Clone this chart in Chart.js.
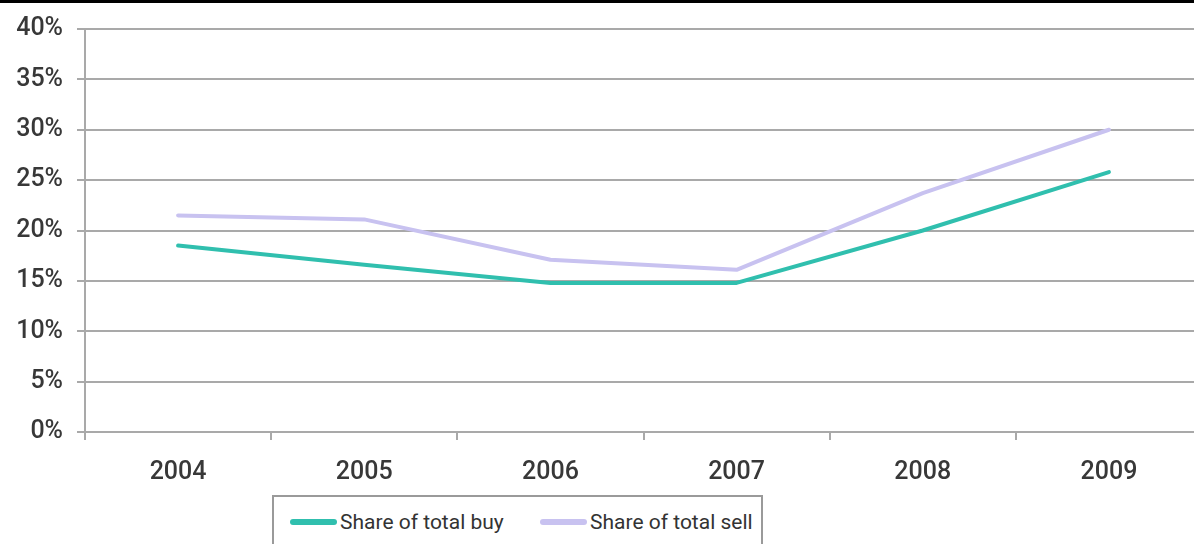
<!DOCTYPE html>
<html>
<head>
<meta charset="utf-8">
<script src="https://cdn.jsdelivr.net/npm/chart.js@4/dist/chart.umd.min.js"></script>
<style>
  html, body { margin: 0; padding: 0; background: #fff; }
  #wrap { position: relative; width: 1194px; height: 544px; overflow: hidden; background: #fff; }
  #topbar { position: absolute; left: 0; top: 0; width: 1194px; height: 3px; background: #000; z-index: 2; }
  #c { position: absolute; left: 0; top: 0; }
  #legend { position: absolute; left: 272px; top: 495px; width: 491px; height: 70px;
            border: 2px solid #9a9a9a; box-sizing: border-box; background: #fff;
            font-family: Roboto, "Liberation Sans", sans-serif; font-size: 21px; color: #333; }
  .item { position: absolute; top: 12px; height: 26px; line-height: 26px; white-space: nowrap; }
  .swatch { position: absolute; top: 10px; width: 47px; height: 6px; border-radius: 3px; }
  .txt { position: absolute; left: 50px; top: 0; }
</style>
</head>
<body>
<div id="wrap">
  <canvas id="c" width="1210" height="544" style="width:1210px;height:544px"></canvas>
  <div id="topbar"></div>
  <div id="legend"></div>
</div>
<script>
const years = ['2004', '2005', '2006', '2007', '2008', '2009'];
const shareBuy = [18.5, 16.6, 14.8, 14.8, 20.0, 25.8];
const shareSell = [21.5, 21.1, 17.1, 16.1, 23.7, 30.0];
const seriesNames = ['Share of total buy', 'Share of total sell'];
const seriesColors = ['#30bfae', '#c8c2f0'];
const yTickValues = [0, 5, 10, 15, 20, 25, 30, 35, 40];

const gridColor = '#a9a9a9';
const textColor = '#383838';
const font = { family: 'Roboto, "Liberation Sans", sans-serif', size: 25, weight: '500' };

const chart = new Chart(document.getElementById('c'), {
  type: 'line',
  data: {
    labels: years,
    datasets: [
      { label: seriesNames[0], data: shareBuy, borderColor: seriesColors[0], backgroundColor: seriesColors[0],
        borderWidth: 4, pointRadius: 0, tension: 0, borderJoinStyle: 'round', borderCapStyle: 'round' },
      { label: seriesNames[1], data: shareSell, borderColor: seriesColors[1], backgroundColor: seriesColors[1],
        borderWidth: 4, pointRadius: 0, tension: 0, borderJoinStyle: 'round', borderCapStyle: 'round' }
    ]
  },
  options: {
    responsive: false,
    animation: false,
    layout: { padding: { top: 25, right: 8, bottom: 52, left: 0 } },
    plugins: { legend: { display: false }, tooltip: { enabled: false } },
    scales: {
      x: {
        offset: true,
        grid: { offset: true, drawOnChartArea: false, drawTicks: true, tickLength: 8, color: gridColor, lineWidth: 2 },
        border: { display: true, color: gridColor, width: 2 },
        ticks: { color: textColor, font: font, padding: 18, maxRotation: 0 },
        afterFit: s => { s.height = 60; }
      },
      y: {
        min: 0, max: 40,
        afterBuildTicks: s => { s.ticks = yTickValues.map(v => ({ value: v })); },
        grid: { color: gridColor, lineWidth: 2, tickLength: 8, drawTicks: true },
        border: { display: true, color: gridColor, width: 2 },
        ticks: { color: textColor, font: font, padding: 14, callback: v => v + '%' },
        afterFit: s => { s.width = 85; }
      }
    }
  }
});

// HTML legend built from the dataset names/colours
const leg = document.getElementById('legend');
const itemLefts = [16, 266];
chart.data.datasets.forEach((ds, i) => {
  const it = document.createElement('div');
  it.className = 'item';
  it.style.left = itemLefts[i] + 'px';
  const sw = document.createElement('div');
  sw.className = 'swatch';
  sw.style.background = ds.borderColor;
  const tx = document.createElement('span');
  tx.className = 'txt';
  tx.textContent = ds.label;
  it.appendChild(sw); it.appendChild(tx);
  leg.appendChild(it);
});
</script>
</body>
</html>
